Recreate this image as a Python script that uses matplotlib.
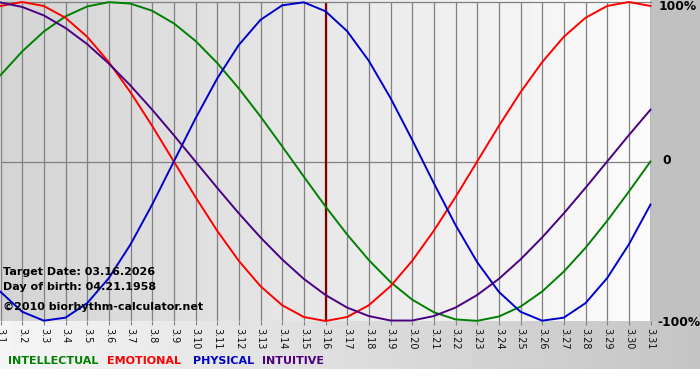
import matplotlib
matplotlib.use("Agg")
import matplotlib.pyplot as plt
import numpy as np

# days of March 2026
days = list(range(1, 32))
tick_labels = ["3.%d" % d for d in days]

# biorhythm values, one per day (-1 .. 1)
physical = [-0.817, -0.942, -0.998, -0.979, -0.888, -0.731, -0.520, -0.270, 0.0, 0.270,
            0.520, 0.731, 0.888, 0.979, 0.998, 0.942, 0.817, 0.631, 0.398, 0.136,
            -0.136, -0.398, -0.631, -0.817, -0.942, -0.998, -0.979, -0.888, -0.731, -0.520,
            -0.270]
emotional = [0.975, 1.0, 0.975, 0.901, 0.782, 0.623, 0.434, 0.223, 0.0, -0.223,
             -0.434, -0.623, -0.782, -0.901, -0.975, -1.0, -0.975, -0.901, -0.782, -0.623,
             -0.434, -0.223, 0.0, 0.223, 0.434, 0.623, 0.782, 0.901, 0.975, 1.0,
             0.975]
intellectual = [0.541, 0.690, 0.815, 0.910, 0.972, 0.999, 0.990, 0.945, 0.866, 0.756,
                0.618, 0.458, 0.282, 0.095, -0.095, -0.282, -0.458, -0.618, -0.756, -0.866,
                -0.945, -0.990, -0.999, -0.972, -0.910, -0.815, -0.690, -0.541, -0.372, -0.189,
                0.0]
intuitive = [0.997, 0.969, 0.916, 0.837, 0.736, 0.614, 0.476, 0.325, 0.165, 0.0,
             -0.165, -0.325, -0.476, -0.614, -0.736, -0.837, -0.916, -0.969, -0.997, -0.997,
             -0.969, -0.916, -0.837, -0.736, -0.614, -0.476, -0.325, -0.165, 0.0, 0.165,
             0.325]

target_day = 16
target_text = "Target Date: 03.16.2026"
birth_text = "Day of birth: 04.21.1958"
credit_text = "\u00a92010 biorhythm-calculator.net"

W, H = 700, 380
fig = plt.figure(figsize=(W / 100, H / 100), dpi=100)
fig.patch.set_facecolor("white")

# background picture in pixels
bg = np.ones((H, W))
px_left, px_right, px_top, px_bot = 0, 650, 2, 321
bg[:px_bot, :px_right] = np.linspace(0.83, 0.985, px_right)[None, :]
bg[:px_bot, px_right:] = 0.755
bg[px_bot:369, :] = np.linspace(0.96, 0.77, W)[None, :]
bga = fig.add_axes([0, 0, 1, 1], zorder=0)
bga.imshow(bg, cmap="gray", vmin=0, vmax=1, aspect="auto", extent=[0, W, H, 0], interpolation="bilinear")
bga.axis("off")

ax = fig.add_axes([px_left / W + 0.5 / W, 1 - px_bot / H, (px_right - px_left) / W, (px_bot - px_top) / H], zorder=1)
ax.patch.set_alpha(0)
ax.set_xlim(1, 31)
ax.set_ylim(-1, 1)

for d in days:
    ax.axvline(d, color="#808080", lw=0.9, zorder=1)
ax.axhline(0, color="#808080", lw=0.9, zorder=1)
ax.axvline(target_day, color="#800000", lw=1.6, zorder=2)

lw = 1.4
ax.plot(days, intellectual, color="#008000", lw=lw, clip_on=False, zorder=3)
ax.plot(days, emotional, color="#ff0000", lw=lw, clip_on=False, zorder=3)
ax.plot(days, physical, color="#0000cc", lw=lw, clip_on=False, zorder=3)
ax.plot(days, intuitive, color="#4b0082", lw=lw, clip_on=False, zorder=3)

ax.set_xticks(days)
ax.set_xticklabels(tick_labels, rotation=-90, fontsize=7, color="#111111")
ax.tick_params(axis="x", length=3, color="#808080", pad=2)
ax.set_yticks([])
for s in ["left", "right", "bottom"]:
    ax.spines[s].set_visible(False)
ax.spines["top"].set_color("#808080")
ax.spines["top"].set_linewidth(0.9)

tfont = dict(fontsize=8, fontweight="bold", color="black", transform=fig.transFigure)
fig.text(3 / W, 1 - 272 / H, target_text, va="center", **tfont)
fig.text(3 / W, 1 - 287 / H, birth_text, va="center", **tfont)
fig.text(3 / W, 1 - 307 / H, credit_text, va="center", **tfont)

rfont = dict(fontsize=8.8, fontweight="bold", color="black", va="center")
fig.text(659 / W, 1 - 7 / H, "100%", **rfont)
fig.text(662 / W, 1 - 161 / H, "0", **rfont)
fig.text(657 / W, 1 - 322 / H, "-100%", **rfont)

lfont = dict(fontsize=8, fontweight="bold", va="center")
fig.text(8 / W, 1 - 361 / H, "INTELLECTUAL", color="#008000", **lfont)
fig.text(107 / W, 1 - 361 / H, "EMOTIONAL", color="#ff0000", **lfont)
fig.text(193 / W, 1 - 361 / H, "PHYSICAL", color="#0000cc", **lfont)
fig.text(262 / W, 1 - 361 / H, "INTUITIVE", color="#4b0082", **lfont)

fig.savefig("out.png", dpi=100)
